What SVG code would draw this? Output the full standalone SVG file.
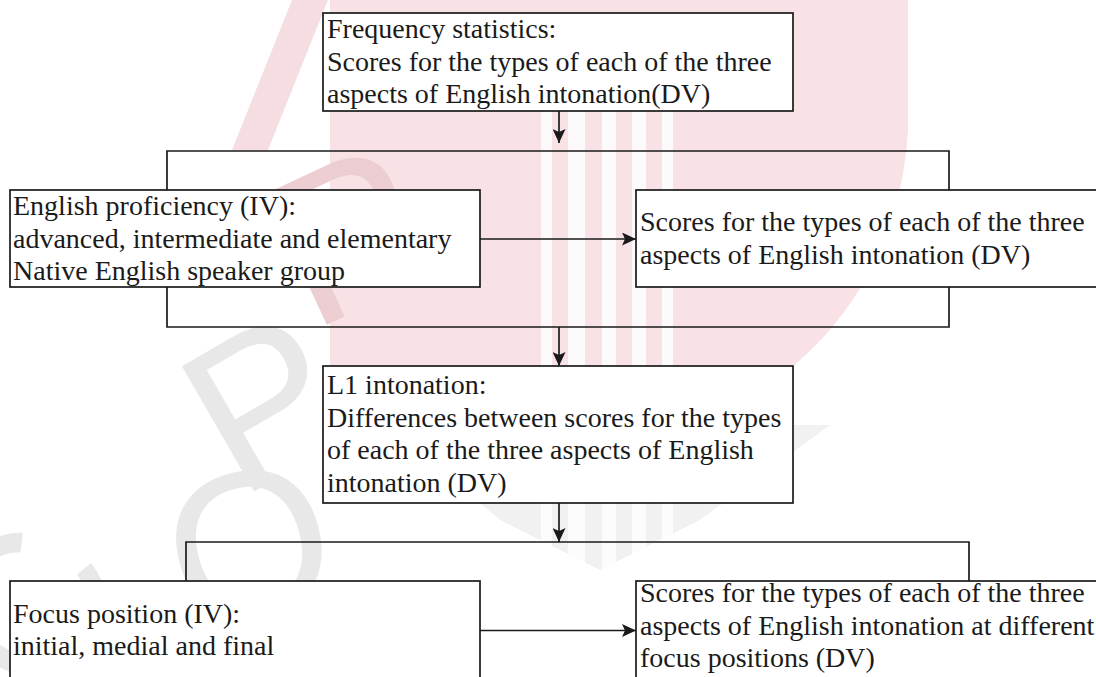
<svg xmlns="http://www.w3.org/2000/svg" width="1096" height="677" viewBox="0 0 1096 677">
<style>
.box{fill:#fff;stroke:#1a1a1a;stroke-width:1.7}
.ln{fill:none;stroke:#1a1a1a;stroke-width:1.7}
.t{font-family:"Liberation Serif","Times New Roman",serif;font-size:28px;fill:#1a1a1a}
.wmp{font-family:"Liberation Sans",Arial,sans-serif;font-size:210px;fill:#ebcdd2}
.wmg{font-family:"Liberation Sans",Arial,sans-serif;font-size:210px;fill:#e8e8e8}
</style>
<defs>
<marker id="ah" markerUnits="userSpaceOnUse" markerWidth="14" markerHeight="13" refX="14" refY="6.5" orient="auto">
<path d="M0,0 L14,6.5 L0,13 L3,6.5 Z" fill="#1a1a1a"/>
</marker>
</defs>
<rect width="1096" height="677" fill="#fff"/>
<g id="watermark">
<path d="M330,0 L908,0 L908,130 C900,270 820,370 700,425 L330,425 Z" fill="#f8e2e5"/>
<path d="M232,150 L292,0 L328,0 L268,150 Z" fill="#f6dde1"/>
<path d="M390,425 L830,425 L700,520 L600,570 L500,520 Z" fill="#f1f1f1"/>
<g fill="#fff" opacity="0.85">
<rect x="541" y="110" width="11" height="460"/>
<rect x="568" y="110" width="17" height="460"/>
<rect x="602" y="110" width="14" height="460"/>
<rect x="632" y="110" width="14" height="460"/>
<rect x="662" y="110" width="11" height="460"/>
</g>
<text class="wmg" transform="translate(95,640) rotate(-65)" text-anchor="middle">C</text>
<text class="wmg" transform="translate(268,615) rotate(-15)" text-anchor="middle">O</text>
<text class="wmg" transform="translate(300,465) rotate(-30)" text-anchor="middle">P</text>
<text class="wmp" transform="translate(380,300) rotate(-25)" text-anchor="middle">R</text>
</g>
<g id="connectors">
<path class="ln" d="M167,190 V151 H949 V190 M167,287 V327 H949 V287"/>
<path class="ln" d="M186,581 V542 H969 V581"/>
<path class="ln" d="M559,111 V143" marker-end="url(#ah)"/>
<path class="ln" d="M559,327 V366" marker-end="url(#ah)"/>
<path class="ln" d="M559,503 V542" marker-end="url(#ah)"/>
<path class="ln" d="M480,239 H636" marker-end="url(#ah)"/>
<path class="ln" d="M480,630.5 H636" marker-end="url(#ah)"/>
</g>
<g id="n-freq">
<rect class="box" x="323" y="13" width="470" height="98"/>
<text class="t" x="327" y="38">Frequency statistics:</text>
<text class="t" x="327" y="70.5">Scores for the types of each of the three</text>
<text class="t" x="327" y="103">aspects of English intonation(DV)</text>
</g>
<g id="n-prof">
<rect class="box" x="10" y="190" width="470" height="97"/>
<text class="t" x="13" y="215">English proficiency (IV):</text>
<text class="t" x="13" y="247.5">advanced, intermediate and elementary</text>
<text class="t" x="13" y="280">Native English speaker group</text>
</g>
<g id="n-scores1">
<rect class="box" x="636" y="190" width="470" height="97"/>
<text class="t" x="640" y="231">Scores for the types of each of the three</text>
<text class="t" x="640" y="263.5">aspects of English intonation (DV)</text>
</g>
<g id="n-l1">
<rect class="box" x="323" y="366" width="470" height="137"/>
<text class="t" x="327" y="394">L1 intonation:</text>
<text class="t" x="327" y="426.5">Differences between scores for the types</text>
<text class="t" x="327" y="459">of each of the three aspects of English</text>
<text class="t" x="327" y="491.5">intonation (DV)</text>
</g>
<g id="n-focus">
<rect class="box" x="10" y="581" width="470" height="120"/>
<text class="t" x="13" y="623">Focus position (IV):</text>
<text class="t" x="13" y="655">initial, medial and final</text>
</g>
<g id="n-scores2">
<rect class="box" x="636" y="581" width="470" height="120"/>
<text class="t" x="640" y="602">Scores for the types of each of the three</text>
<text class="t" x="640" y="634.5">aspects of English intonation at different</text>
<text class="t" x="640" y="667">focus positions (DV)</text>
</g>
</svg>
